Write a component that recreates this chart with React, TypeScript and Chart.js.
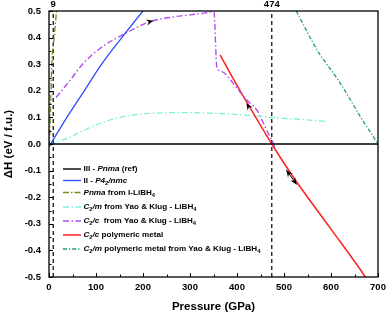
import React, { useEffect, useRef } from "react";
import { Chart, registerables } from "chart.js";

Chart.register(...registerables);

// ---------- data ----------
const X_MIN = 0;
const X_MAX = 700;
const Y_MIN = -0.5;
const Y_MAX = 0.5;

const REF_P = [0, 700];
const REF_H = [0, 0];

const P42_P = [0, 38, 75, 112, 155, 200, 210];
const P42_H = [-0.01, 0.1, 0.2, 0.3, 0.4, 0.5, 0.52];

const PNMA_I_P = [0.5, 3, 6, 11, 16];
const PNMA_I_H = [-0.01, 0.12, 0.3, 0.4, 0.5];

const C2M_P = [3, 9, 38, 73, 109, 144, 180, 215, 270, 322, 380, 430, 471, 530, 588];
const C2M_H = [-0.008, 0, 0.021, 0.05, 0.078, 0.097, 0.109, 0.115, 0.118, 0.117, 0.113, 0.107, 0.1, 0.093, 0.085];

const C2C_P = [15, 45, 73, 109, 169, 215, 265, 322, 351, 357, 368, 392, 417, 442, 453, 463, 474, 483];
const C2C_H = [0.175, 0.24, 0.303, 0.36, 0.422, 0.46, 0.478, 0.49, 0.497, 0.29, 0.272, 0.228, 0.172, 0.128, 0.09, 0.053, 0.015, -0.02];

const C2C_MET_P = [364, 400, 440, 474, 520, 600, 673, 680];
const C2C_MET_H = [0.335, 0.22, 0.1, 0, -0.125, -0.32, -0.5, -0.52];

const C2M_MET_P = [526, 570, 620, 660, 700];
const C2M_MET_H = [0.5, 0.355, 0.228, 0.11, 0];

const TRANSITIONS = [9, 474];
const TRANSITION_LABELS = ["9", "474"];

const SERIES_NAMES = [
  "III - <i>Pnma</i> (ref)",
  "II - <i>P4</i><sub>2</sub><i>/nmc</i>",
  "<i>Pnma</i> from I-LiBH<sub>4</sub>",
  "<i>C</i><sub>2</sub><i>/m</i> from Yao & Klug - LiBH<sub>4</sub>",
  "<i>C</i><sub>2</sub><i>/c</i>  from Yao & Klug - LiBH<sub>4</sub>",
  "<i>C</i><sub>2</sub><i>/c</i> polymeric metal",
  "<i>C</i><sub>2</sub><i>/m</i> polymeric metal from Yao & Klug - LiBH<sub>4</sub>",
];

// arrows (tail -> head, in data units)
const ARROWS_FROM_P = [203, 434, 505];
const ARROWS_FROM_H = [0.455, 0.115, -0.098];
const ARROWS_TO_P = [222, 420, 527];
const ARROWS_TO_H = [0.463, 0.153, -0.152];
const ARROWS_DOUBLE = [false, false, true];

const X_TITLE = "Pressure (GPa)";
const Y_TITLE = "ΔH (eV / f.u.)";

// ---------- styles ----------
const FONT = '"Liberation Sans", Arial, sans-serif';
const COLORS = ["#000000", "#2a4dff", "#6f8f1c", "#7ff0dc", "#b24cf2", "#ff2020", "#1a9e72"];
const DASHES: number[][] = [[], [], [6, 2, 1.5, 2], [6, 2.5, 1.5, 2.5], [6, 2.5, 1.5, 2.5], [], [4, 2, 1.2, 2]];
const WIDTHS = [1.4, 1.3, 1.3, 1.3, 1.4, 1.5, 1.3];
const LEGEND_ROWS_Y = [169, 180.5, 192.5, 207, 221, 235, 249];

const zip = (p: number[], h: number[]) => p.map((v, i) => ({ x: v, y: h[i] }));

function parseRich(s: string) {
  const out: { t: string; it: boolean; sub: boolean }[] = [];
  const re = /<(i|sub)>(.*?)<\/\1>/g;
  let last = 0;
  let m: RegExpExecArray | null;
  while ((m = re.exec(s))) {
    if (m.index > last) out.push({ t: s.slice(last, m.index), it: false, sub: false });
    out.push({ t: m[2], it: m[1] === "i", sub: m[1] === "sub" });
    last = re.lastIndex;
  }
  if (last < s.length) out.push({ t: s.slice(last), it: false, sub: false });
  return out;
}

function arrowHead(ctx: CanvasRenderingContext2D, tx: number, ty: number, fx: number, fy: number) {
  const ang = Math.atan2(ty - fy, tx - fx);
  const L = 7;
  const W = 3;
  ctx.save();
  ctx.translate(tx, ty);
  ctx.rotate(ang);
  ctx.beginPath();
  ctx.moveTo(0, 0);
  ctx.lineTo(-L, -W);
  ctx.lineTo(-L * 0.65, 0);
  ctx.lineTo(-L, W);
  ctx.closePath();
  ctx.fillStyle = "#000";
  ctx.fill();
  ctx.restore();
}

const decorPlugin = {
  id: "decor",
  afterDatasetsDraw(chart: any) {
    const { ctx, chartArea: a, scales } = chart;
    const x = scales.x;
    const y = scales.y;
    ctx.save();
    // frame
    ctx.strokeStyle = "#000";
    ctx.lineWidth = 1.3;
    ctx.setLineDash([]);
    ctx.strokeRect(a.left, a.top, a.right - a.left, a.bottom - a.top);
    // inward ticks
    ctx.lineWidth = 1;
    ctx.beginPath();
    for (let v = X_MIN; v <= X_MAX; v += 50) {
      const px = Math.round(x.getPixelForValue(v)) + 0.5;
      const len = v % 100 === 0 ? 4 : 2.5;
      ctx.moveTo(px, a.bottom);
      ctx.lineTo(px, a.bottom - len);
    }
    for (let k = 0; k <= 20; k++) {
      const v = Y_MIN + k * 0.05;
      const py = Math.round(y.getPixelForValue(v)) + 0.5;
      const len = k % 2 === 0 ? 4 : 2.5;
      ctx.moveTo(a.left, py);
      ctx.lineTo(a.left + len, py);
    }
    ctx.stroke();
    // transition labels
    ctx.fillStyle = "#000";
    ctx.font = `bold 9.5px ${FONT}`;
    ctx.textAlign = "center";
    ctx.textBaseline = "middle";
    TRANSITIONS.forEach((p, i) => {
      ctx.fillText(TRANSITION_LABELS[i], x.getPixelForValue(p), 4.5);
    });
    // arrows
    ARROWS_TO_P.forEach((tp, i) => {
      const tx = x.getPixelForValue(tp);
      const ty = y.getPixelForValue(ARROWS_TO_H[i]);
      const fx = x.getPixelForValue(ARROWS_FROM_P[i]);
      const fy = y.getPixelForValue(ARROWS_FROM_H[i]);
      if (ARROWS_DOUBLE[i]) {
        ctx.strokeStyle = "#000";
        ctx.lineWidth = 1;
        ctx.beginPath();
        ctx.moveTo(fx, fy);
        ctx.lineTo(tx, ty);
        ctx.stroke();
        arrowHead(ctx, fx, fy, tx, ty);
      }
      arrowHead(ctx, tx, ty, fx, fy);
    });
    // legend
    const lx0 = 63;
    const lx1 = 81;
    const tx0 = 83.5;
    SERIES_NAMES.forEach((name, i) => {
      const ly = LEGEND_ROWS_Y[i];
      ctx.strokeStyle = COLORS[i];
      ctx.lineWidth = WIDTHS[i];
      ctx.setLineDash(DASHES[i]);
      ctx.beginPath();
      ctx.moveTo(lx0, ly);
      ctx.lineTo(lx1, ly);
      ctx.stroke();
      ctx.setLineDash([]);
      let cx = tx0;
      ctx.textAlign = "left";
      ctx.textBaseline = "middle";
      ctx.fillStyle = "#000";
      parseRich(name).forEach((seg) => {
        if (seg.sub) {
          ctx.font = `bold 5.8px ${FONT}`;
          ctx.fillText(seg.t, cx, ly + 2.6);
        } else {
          ctx.font = `${seg.it ? "italic " : ""}bold 8.1px ${FONT}`;
          ctx.fillText(seg.t, cx, ly);
        }
        cx += ctx.measureText(seg.t).width;
      });
    });
    ctx.restore();
  },
};

export default function App() {
  const ref = useRef<HTMLCanvasElement | null>(null);
  useEffect(() => {
    document.body.style.margin = "0";
    const series = [
      zip(REF_P, REF_H),
      zip(P42_P, P42_H),
      zip(PNMA_I_P, PNMA_I_H),
      zip(C2M_P, C2M_H),
      zip(C2C_P, C2C_H),
      zip(C2C_MET_P, C2C_MET_H),
      zip(C2M_MET_P, C2M_MET_H),
    ];
    const datasets: any[] = series.map((d, i) => ({
      label: SERIES_NAMES[i].replace(/<[^>]+>/g, ""),
      data: d,
      borderColor: COLORS[i],
      backgroundColor: COLORS[i],
      borderWidth: WIDTHS[i],
      borderDash: DASHES[i],
      pointRadius: 0,
      cubicInterpolationMode: "monotone",
      fill: false,
    }));
    TRANSITIONS.forEach((p) => {
      datasets.push({
        label: "t" + p,
        data: [
          { x: p, y: Y_MIN },
          { x: p, y: Y_MAX },
        ],
        borderColor: "#000",
        borderWidth: 1.2,
        borderDash: [4, 3],
        pointRadius: 0,
        fill: false,
      });
    });
    const chart = new Chart(ref.current as HTMLCanvasElement, {
      type: "line",
      data: { datasets },
      plugins: [decorPlugin],
      options: {
        responsive: false,
        animation: false,
        layout: { padding: { top: 11, right: 9, left: 0, bottom: 0 } },
        plugins: { legend: { display: false }, tooltip: { enabled: false } },
        scales: {
          x: {
            type: "linear",
            min: X_MIN,
            max: X_MAX,
            afterFit: (s: any) => {
              s.height = 38;
              s.paddingLeft = 0;
              s.paddingRight = 0;
            },
            grid: { display: false, drawTicks: false },
            border: { display: false },
            ticks: {
              stepSize: 100,
              padding: 5,
              color: "#000",
              font: { family: FONT, size: 9.5, weight: "bold" },
            },
            title: {
              display: true,
              text: X_TITLE,
              color: "#000",
              font: { family: FONT, size: 11.5, weight: "bold" },
              padding: { top: 0, bottom: 1 },
            },
          },
          y: {
            type: "linear",
            min: Y_MIN,
            max: Y_MAX,
            afterFit: (s: any) => {
              s.width = 49;
              s.paddingTop = 0;
              s.paddingBottom = 0;
            },
            grid: { display: false, drawTicks: false },
            border: { display: false },
            ticks: {
              stepSize: 0.1,
              padding: 8,
              color: "#000",
              font: { family: FONT, size: 9.5, weight: "bold" },
              callback: (v: any) => Number(v).toFixed(1),
            },
            title: {
              display: true,
              text: Y_TITLE,
              color: "#000",
              font: { family: FONT, size: 11.5, weight: "bold" },
              padding: { top: 2, bottom: 0 },
            },
          },
        },
      } as any,
    });
    return () => chart.destroy();
  }, []);
  return <canvas ref={ref} width={387} height={315} style={{ display: "block" }} />;
}
